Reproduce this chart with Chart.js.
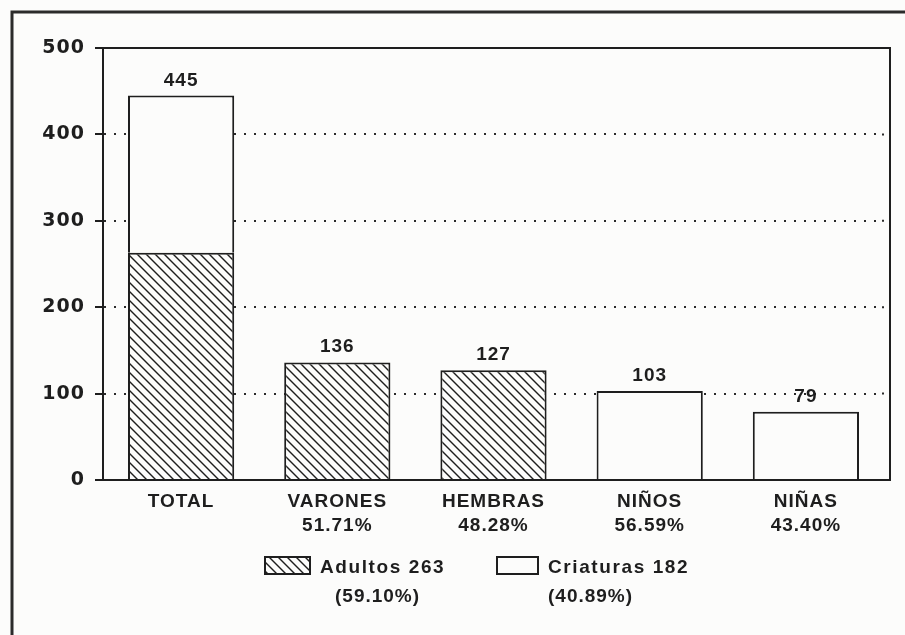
<!DOCTYPE html>
<html><head><meta charset="utf-8">
<script src="https://cdn.jsdelivr.net/npm/chart.js@4.4.0/dist/chart.umd.min.js"></script>
<style>
html,body{margin:0;padding:0;background:#fcfcfb;}
canvas{display:block;}
</style></head>
<body>
<canvas id="c" width="905" height="635"></canvas>
<script>
// ---- data ----
const categoryNames = ['TOTAL', 'VARONES', 'HEMBRAS', 'NIÑOS', 'NIÑAS'];
const categoryPercents = ['', '51.71%', '48.28%', '56.59%', '43.40%'];
const adultos = [263, 136, 127, null, null];
const criaturas = [182, null, null, 103, 79];
const yTickValues = [0, 100, 200, 300, 400, 500];
const legendTitles = ['Adultos 263', 'Criaturas 182'];
const legendPercents = ['(59.10%)', '(40.89%)'];

// ---- styles ----
const INK = '#1e1e1e';
const PAPER = '#fcfcfb';
const FONT = '"Liberation Sans", Arial, sans-serif';

const canvas = document.getElementById('c');
const mainCtx = canvas.getContext('2d');

function makeHatch() {
  const s = 9;
  const c = document.createElement('canvas');
  c.width = s; c.height = s;
  const g = c.getContext('2d');
  g.fillStyle = PAPER; g.fillRect(0, 0, s, s);
  g.strokeStyle = INK; g.lineWidth = 1.4;
  for (const k of [-s, 0, s]) {
    g.beginPath(); g.moveTo(k - 1, -1); g.lineTo(k + s + 1, s + 1); g.stroke();
  }
  return mainCtx.createPattern(c, 'repeat');
}
const hatch = makeHatch();

const labels = categoryNames.map((n, i) => categoryPercents[i] ? [n, categoryPercents[i]] : n);

const framePlugin = {
  id: 'frame',
  beforeDraw(chart) {
    const ctx = chart.ctx;
    ctx.letterSpacing = '1px';
    ctx.save();
    ctx.strokeStyle = '#2b2b2b';
    ctx.lineWidth = 3;
    ctx.beginPath();
    ctx.moveTo(12, 640); ctx.lineTo(12, 12); ctx.lineTo(910, 12);
    ctx.stroke();
    ctx.restore();
  },
  beforeDatasetsDraw(chart) {
    const {ctx, chartArea: a, scales: {y}} = chart;
    const r = a.right + 6;
    ctx.save();
    // continue the dotted grid up to the plot frame
    ctx.strokeStyle = '#2a2a2a'; ctx.lineWidth = 2; ctx.setLineDash([2, 8]);
    yTickValues.filter(v => v > 0 && v < 500).forEach(v => {
      const py = y.getPixelForValue(v);
      ctx.beginPath(); ctx.moveTo(a.right - 2, py); ctx.lineTo(r, py); ctx.stroke();
    });
    ctx.setLineDash([]);
    ctx.strokeStyle = INK; ctx.lineWidth = 2;
    ctx.beginPath();
    ctx.moveTo(a.left, a.top); ctx.lineTo(r, a.top); ctx.lineTo(r, a.bottom);
    ctx.lineTo(a.right, a.bottom);
    ctx.stroke();
    ctx.restore();
  }
};

const totalsPlugin = {
  id: 'totals',
  afterDatasetsDraw(chart) {
    const {ctx, scales: {x, y}} = chart;
    ctx.save();
    ctx.font = 'bold 19px ' + FONT;
    ctx.letterSpacing = '1px';
    ctx.fillStyle = INK;
    ctx.textAlign = 'center';
    ctx.textBaseline = 'alphabetic';
    categoryNames.forEach((_, i) => {
      const t = (adultos[i] || 0) + (criaturas[i] || 0);
      ctx.fillText(String(t), x.getPixelForValue(i), y.getPixelForValue(t) - 10);
    });
    ctx.restore();
  }
};

const legendPlugin = {
  id: 'customLegend',
  afterDraw(chart) {
    const ctx = chart.ctx;
    const items = [
      {fill: hatch, box: [265, 557, 45, 17], textX: 320, pctX: 335},
      {fill: PAPER, box: [497, 557, 41, 17], textX: 548, pctX: 548}
    ];
    ctx.save();
    ctx.font = 'bold 19px ' + FONT;
    ctx.textBaseline = 'alphabetic';
    ctx.textAlign = 'left';
    items.forEach((it, i) => {
      const [bx, by, bw, bh] = it.box;
      ctx.fillStyle = it.fill;
      ctx.fillRect(bx, by, bw, bh);
      ctx.strokeStyle = INK; ctx.lineWidth = 2;
      ctx.strokeRect(bx, by, bw, bh);
      ctx.fillStyle = INK;
      ctx.letterSpacing = '1.6px';
      ctx.fillText(legendTitles[i], it.textX, 573);
      ctx.letterSpacing = '1px';
      ctx.fillText(legendPercents[i], it.pctX, 602);
    });
    ctx.restore();
  }
};

new Chart(canvas, {
  type: 'bar',
  data: {
    labels: labels,
    datasets: [
      {label: 'Adultos', data: adultos, backgroundColor: hatch, borderColor: INK, borderWidth: 2,
       barPercentage: 0.68, categoryPercentage: 1},
      {label: 'Criaturas', data: criaturas, backgroundColor: PAPER, borderColor: INK, borderWidth: 2,
       barPercentage: 0.68, categoryPercentage: 1}
    ]
  },
  options: {
    responsive: false,
    animation: false,
    events: [],
    layout: {padding: {left: 13, top: 48, right: 21, bottom: 95}},
    plugins: {legend: {display: false}, tooltip: {enabled: false}, title: {display: false}},
    scales: {
      x: {
        stacked: true,
        grid: {display: false, drawTicks: false},
        border: {display: true, color: INK, width: 2},
        ticks: {color: INK, padding: 9, font: {family: FONT, weight: 'bold', size: 19, lineHeight: 1.3}},
        afterFit(s) { s.height = 60; }
      },
      y: {
        stacked: true,
        min: 0, max: 500,
        afterBuildTicks(s) { s.ticks = yTickValues.map(v => ({value: v})); },
        grid: {
          color: c => (c.tick && c.tick.value > 0 && c.tick.value < 500) ? '#2a2a2a' : 'rgba(0,0,0,0)',
          lineWidth: 2,
          tickColor: INK,
          tickWidth: 2,
          tickLength: 8,
          tickBorderDash: []
        },
        border: {display: true, color: INK, width: 2, dash: [2, 8]},
        ticks: {color: INK, padding: 10, font: {family: '"DejaVu Sans", sans-serif', weight: 'bold', size: 19}},
        afterFit(s) { s.width = 90; }
      }
    }
  },
  plugins: [framePlugin, totalsPlugin, legendPlugin]
});
</script>
</body></html>
